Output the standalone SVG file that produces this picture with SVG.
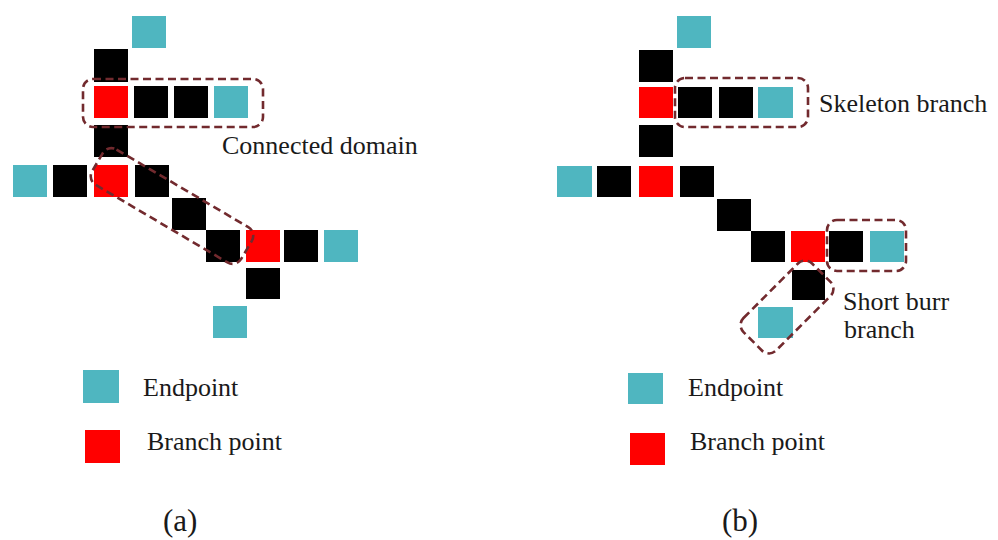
<svg xmlns="http://www.w3.org/2000/svg" width="998" height="540" viewBox="0 0 998 540">
<style>
.e{fill:#4fb6c0}
.r{fill:#ff0000}
.k{fill:#000}
.d{fill:none;stroke:#722a2e;stroke-width:2.6;stroke-dasharray:8 4.5}
.t{font-family:'Liberation Serif','Times New Roman',Tinos,'DejaVu Serif',serif;fill:#1a1a1a;font-size:26px}
.cap{font-size:31px}
</style>
<rect width="998" height="540" fill="#fff"/>
<g id="panel-a">
  <g id="a-pixels">
    <rect class="e" x="132" y="16" width="34" height="32"/>
    <rect class="k" x="94" y="49" width="34" height="33"/>
    <rect class="r" x="94" y="86" width="34" height="32"/>
    <rect class="k" x="134" y="86" width="34" height="32"/>
    <rect class="k" x="174" y="86" width="34" height="32"/>
    <rect class="e" x="214" y="86" width="34" height="32"/>
    <rect class="k" x="94" y="125" width="34" height="32"/>
    <rect class="e" x="13" y="165" width="34" height="32"/>
    <rect class="k" x="53" y="165" width="34" height="32"/>
    <rect class="r" x="94" y="165" width="34" height="32"/>
    <rect class="k" x="135" y="165" width="34" height="32"/>
    <rect class="k" x="172" y="198" width="34" height="32"/>
    <rect class="k" x="206" y="230" width="34" height="32"/>
    <rect class="r" x="246" y="230" width="34" height="32"/>
    <rect class="k" x="284" y="230" width="34" height="32"/>
    <rect class="e" x="324" y="230" width="34" height="32"/>
    <rect class="k" x="246" y="268" width="34" height="31"/>
    <rect class="e" x="213" y="306" width="34" height="32"/>
  </g>
  <g id="a-regions">
    <rect class="d" x="83" y="79" width="180" height="48" rx="10"/>
    <rect class="d" x="85.5" y="185.5" width="173" height="41" rx="10" transform="rotate(30.5 172 206)"/>
  </g>
  <text id="a-label-connected" class="t" font-family="Liberation Serif, serif" x="222" y="154">Connected domain</text>
  <g id="a-legend">
    <rect class="e" x="83" y="370" width="36" height="33"/>
    <text class="t" font-family="Liberation Serif, serif" x="143" y="396">Endpoint</text>
    <rect class="r" x="85" y="430" width="35" height="33"/>
    <text class="t" font-family="Liberation Serif, serif" x="147" y="450">Branch point</text>
  </g>
  <text id="a-caption" class="t cap" font-family="Liberation Serif, serif" x="163" y="531">(a)</text>
</g>
<g id="panel-b">
  <g id="b-pixels">
    <rect class="e" x="677" y="16" width="34" height="32"/>
    <rect class="k" x="639" y="50" width="34" height="32"/>
    <rect class="r" x="639" y="87" width="34" height="31"/>
    <rect class="k" x="678" y="87" width="34" height="31"/>
    <rect class="k" x="719" y="87" width="34" height="31"/>
    <rect class="e" x="758" y="87" width="35" height="31"/>
    <rect class="k" x="639" y="125" width="34" height="32"/>
    <rect class="e" x="557" y="166" width="35" height="31"/>
    <rect class="k" x="597" y="166" width="34" height="31"/>
    <rect class="r" x="639" y="166" width="34" height="31"/>
    <rect class="k" x="680" y="166" width="34" height="31"/>
    <rect class="k" x="717" y="199" width="34" height="32"/>
    <rect class="k" x="751" y="231" width="34" height="31"/>
    <rect class="r" x="791" y="231" width="34" height="31"/>
    <rect class="k" x="829" y="231" width="34" height="31"/>
    <rect class="e" x="870" y="231" width="34" height="31"/>
    <rect class="k" x="792" y="270" width="33" height="30"/>
    <rect class="e" x="758" y="307" width="35" height="31"/>
  </g>
  <g id="b-regions">
    <rect class="d" x="675" y="78" width="133" height="49" rx="10"/>
    <rect class="d" x="827" y="220" width="79" height="51" rx="10"/>
    <rect class="d" x="738.5" y="284" width="97" height="46" rx="10" transform="rotate(-45 787 307)"/>
  </g>
  <text id="b-label-skeleton" class="t" font-family="Liberation Serif, serif" x="819" y="112">Skeleton branch</text>
  <text id="b-label-burr" class="t" font-family="Liberation Serif, serif" x="843" y="310">Short burr<tspan x="844" y="338">branch</tspan></text>
  <g id="b-legend">
    <rect class="e" x="628" y="373" width="35" height="31"/>
    <text class="t" font-family="Liberation Serif, serif" x="688" y="396">Endpoint</text>
    <rect class="r" x="630" y="433" width="35" height="32"/>
    <text class="t" font-family="Liberation Serif, serif" x="690" y="450">Branch point</text>
  </g>
  <text id="b-caption" class="t cap" font-family="Liberation Serif, serif" x="722" y="531">(b)</text>
</g>
</svg>
